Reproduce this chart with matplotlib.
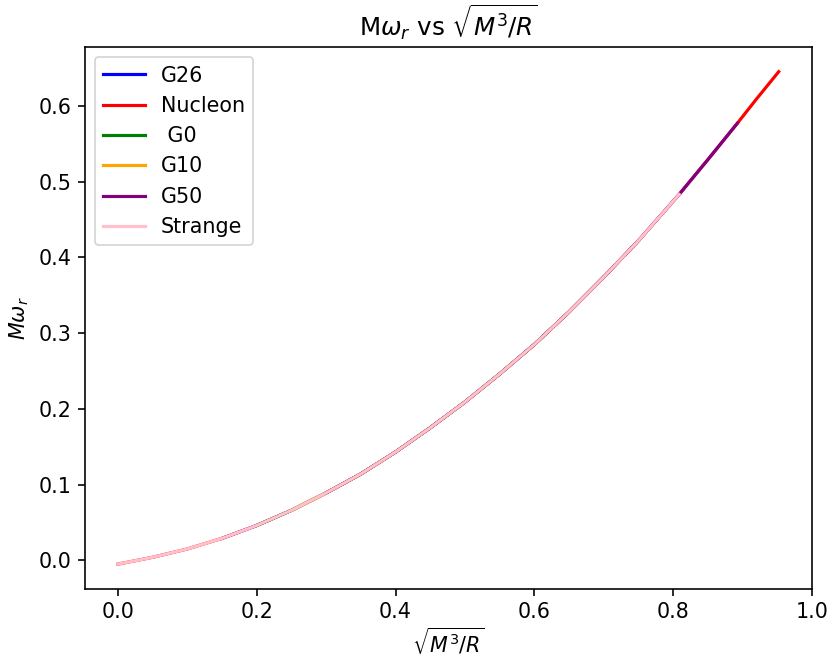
import numpy as np
import matplotlib
matplotlib.use("Agg")
import matplotlib.pyplot as plt

plt.rcParams['font.size'] = 11.4
plt.rcParams['lines.linewidth'] = 1.75
plt.rcParams['axes.linewidth'] = 0.9
plt.rcParams['xtick.major.size'] = 4
plt.rcParams['ytick.major.size'] = 4
plt.rcParams['xtick.major.width'] = 0.9
plt.rcParams['ytick.major.width'] = 0.9

# values (sqrt(M^3/R), M*omega_r)
x_strange = [0.0, 0.05, 0.10, 0.15, 0.20, 0.25, 0.30, 0.35, 0.40, 0.45, 0.50, 0.55, 0.60, 0.65, 0.70, 0.75, 0.8085]
y_strange = [-0.005, 0.004, 0.015, 0.029, 0.046, 0.066, 0.089, 0.114, 0.143, 0.175, 0.209, 0.246, 0.285, 0.328, 0.374, 0.422, 0.483]

x_nucleon = [0.0, 0.05, 0.10, 0.15, 0.20, 0.25, 0.30, 0.35, 0.40, 0.45, 0.50, 0.55, 0.60, 0.65, 0.70, 0.75, 0.8085, 0.85, 0.8925, 0.92, 0.952]
y_nucleon = [-0.005, 0.004, 0.015, 0.029, 0.046, 0.066, 0.089, 0.114, 0.143, 0.175, 0.209, 0.246, 0.285, 0.328, 0.374, 0.422, 0.483, 0.529, 0.577, 0.609, 0.645]

x_g50 = [0.30, 0.35, 0.40, 0.45, 0.50, 0.55, 0.60, 0.65, 0.70, 0.75, 0.8085, 0.85, 0.8925]
y_g50 = [0.089, 0.114, 0.143, 0.175, 0.209, 0.246, 0.285, 0.328, 0.374, 0.422, 0.483, 0.529, 0.577]

x_g26 = [0.15, 0.20, 0.25, 0.30, 0.35, 0.40, 0.45, 0.50, 0.55, 0.60, 0.65, 0.70, 0.75]
y_g26 = [0.029, 0.046, 0.066, 0.089, 0.114, 0.143, 0.175, 0.209, 0.246, 0.285, 0.328, 0.374, 0.422]

x_g0 = [0.20, 0.25, 0.30, 0.35, 0.40, 0.45, 0.50, 0.55, 0.60, 0.65, 0.70]
y_g0 = [0.046, 0.066, 0.089, 0.114, 0.143, 0.175, 0.209, 0.246, 0.285, 0.328, 0.374]

x_g10 = [0.25, 0.30, 0.35, 0.40, 0.45, 0.50, 0.55, 0.60, 0.65, 0.70, 0.75]
y_g10 = [0.066, 0.089, 0.114, 0.143, 0.175, 0.209, 0.246, 0.285, 0.328, 0.374, 0.422]

fig = plt.figure(figsize=(6.4, 5.1), dpi=130)
ax = fig.add_axes([0.102, 0.112, 0.874, 0.817])

ax.plot(x_g26, y_g26, color='blue', label='G26')
ax.plot(x_nucleon, y_nucleon, color='red', label='Nucleon')
ax.plot(x_g0, y_g0, color='green', label=' G0')
ax.plot(x_g10, y_g10, color='orange', label='G10')
ax.plot(x_g50, y_g50, color='purple', label='G50')
ax.plot(x_strange, y_strange, color='pink', label='Strange')

ax.set_xlim(-0.0476, 1.0)
ax.set_ylim(-0.0375, 0.6775)
ax.set_title(r'M$\omega_r$ vs $\sqrt{M^3/R}$')
ax.set_xlabel(r'$\sqrt{M^3/R}$', labelpad=2)
ax.set_ylabel(r'$M\omega_r$')
ax.legend(loc='upper left')

fig.savefig('out.png', dpi=130)
